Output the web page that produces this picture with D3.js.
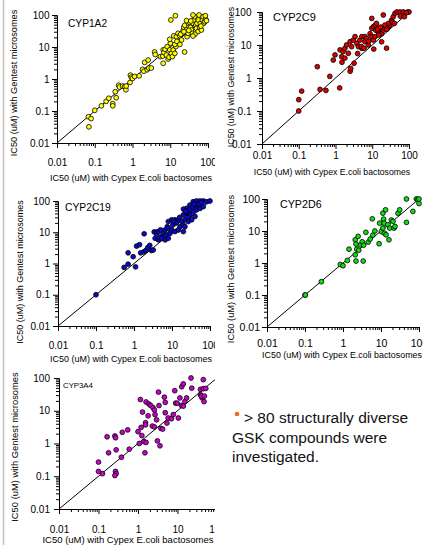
<!DOCTYPE html>
<html>
<head>
<meta charset="utf-8">
<script src="https://cdn.jsdelivr.net/npm/d3@7"></script>
<style>
  body { margin: 0; background: #fff; }
  svg { display: block; font-family: Arial, "Liberation Sans", sans-serif; }
</style>
</head>
<body>
<svg width="423" height="545"></svg>
<script>
const majorTicks = [0.01, 0.1, 1, 10, 100];
const enzymes = ["CYP1A2", "CYP2C9", "CYP2C19", "CYP2D6", "CYP3A4"];
const xTitle = "IC50 (uM) with Cypex E.coli bactosomes";
const yTitle = "IC50 (uM) with Gentest microsomes";
const note = ["> 80 structurally diverse", "GSK compounds were", "investigated."];

// [bactosomes IC50, microsomes IC50] in uM
const cyp1a2 = [
    [0.07, 0.032], [0.068, 0.066], [0.08, 0.058], [0.1, 0.105], [0.15, 0.145],
    [0.2, 0.2], [0.235, 0.25], [0.3, 0.17], [0.3, 0.145], [0.35, 0.4],
    [0.37, 0.26], [0.43, 0.64], [0.45, 0.56], [0.55, 0.6], [0.62, 0.58],
    [0.67, 0.46], [0.68, 0.6], [0.86, 0.78], [0.88, 1.32], [0.93, 1.14],
    [1.0, 1.04], [1.14, 1.2], [1.5, 1.25], [1.85, 2.0], [2.0, 1.75],
    [2.45, 1.95], [2.7, 2.2], [3.15, 2.2], [2.1, 3.3], [2.6, 3.9],
    [3.85, 7.0], [4.0, 5.8], [5.5, 5.0], [6.3, 5.2], [6.5, 3.1],
    [6.5, 8.1], [6.8, 6.7], [7.3, 8.5], [8.3, 10.3], [7.9, 5.6],
    [8.8, 4.2], [9.3, 4.8], [9.7, 8.1], [10.1, 13.1], [9.7, 17.4],
    [10.7, 6.3], [11.4, 5.0], [12, 8.1], [13.2, 6.3], [14.1, 10.3],
    [12.4, 22.3], [10.4, 70], [13.7, 95], [13.2, 12], [14.6, 21],
    [16.1, 26.8], [17.9, 22.3], [19.9, 16.6], [21, 26.8], [21.9, 32.5],
    [22.8, 41.3], [24.2, 47.6], [26.8, 34], [28, 21], [29.7, 26.8],
    [30.3, 55], [33, 57.6], [34.3, 41.3], [36.5, 34], [38.7, 26.8],
    [40.2, 55], [41.9, 69.8], [44.5, 88.7], [47.4, 48.8], [49.3, 38.4],
    [51.3, 55], [54.5, 30.3], [55.6, 69.8], [57.9, 100], [60.3, 41.3],
    [62.8, 55], [66.8, 34], [71, 69.8], [74, 88.7], [77, 55],
    [81.5, 62], [87, 73.3], [91, 66.6], [40, 100], [27, 66.6],
    [24, 7.0], [19, 25], [23, 30], [35, 65], [45, 25],
    [65, 45], [85, 95], [15, 15], [18, 12], [31, 33], [40, 22]
];

const cyp2c9 = [
    [0.1, 0.1], [0.1, 0.22], [0.12, 0.4], [0.32, 2.2], [0.38, 0.45],
    [0.55, 0.42], [0.7, 1.12], [0.87, 3.5], [0.97, 5.0], [1.3, 0.5],
    [1.33, 7.1], [1.47, 4.4], [1.5, 3.0], [1.6, 6.3], [1.8, 7.9],
    [1.8, 4.0], [2.0, 10], [2.24, 5.6], [2.5, 12.6], [2.5, 1.6],
    [2.6, 1.95], [2.75, 8.9], [3.05, 14], [3.2, 2.8], [3.4, 18],
    [3.8, 11.2], [4.0, 5.5], [4.2, 8.9], [4.6, 14], [5.2, 18],
    [5.2, 7.9], [6.3, 18], [6.3, 12.6], [7.0, 16], [7.8, 10],
    [8.7, 22], [9.7, 18], [9.7, 32], [9.7, 64], [10.7, 14],
    [10.8, 36], [12, 40], [12, 18], [13, 45], [14.6, 25],
    [16, 32], [18, 22], [18, 12.5], [20, 28], [20, 81],
    [22, 32], [24.5, 8], [27.5, 36], [30, 40], [27.5, 45],
    [33.6, 57], [37.4, 72], [41.6, 91], [47, 100], [57, 100],
    [70, 100], [93, 100], [58, 75], [75, 72], [100, 100],
    [85, 95], [11, 7.5], [5, 9], [15, 20], [12.5, 28],
    [14, 30], [25, 30], [22, 40], [35, 50], [40, 45],
    [17, 35], [8, 13], [6, 8]
];

const cyp2c19 = [
    [0.1, 0.1], [0.55, 0.75], [0.7, 2.2], [0.7, 0.95], [0.95, 1.65],
    [1.1, 0.78], [1.17, 3.6], [1.4, 4.0], [1.5, 2.2], [1.8, 2.35],
    [1.85, 8.9], [2.05, 2.6], [2.3, 3.2], [2.6, 3.8], [2.9, 2.6],
    [3.2, 2.7], [3.4, 10.2], [3.6, 6.4], [3.9, 10], [4.0, 8.2],
    [4.4, 5.7], [4.4, 10.5], [5.35, 7.2], [5.35, 6.4], [5.9, 9.3],
    [6.6, 11.8], [6.6, 5.7], [7.2, 8.2], [7.5, 15], [8, 13.4],
    [8, 6.4], [8, 22], [8.9, 9.3], [9.8, 11.8], [9.8, 25],
    [10.5, 17], [12, 10.5], [12, 25], [12.5, 20], [14.7, 11.8],
    [14.7, 25], [16.2, 15], [17.9, 22], [19.9, 17], [19.9, 36],
    [19.9, 10.5], [21.9, 25], [21.9, 15], [24.4, 41], [24.4, 58],
    [26.8, 22], [29.6, 52], [29.6, 74], [29.6, 36], [33, 25],
    [36.2, 46], [36.2, 66], [36.2, 95], [40.3, 32], [44.4, 52],
    [44.4, 74], [44.4, 100], [54.7, 58], [54.7, 100], [66.6, 66],
    [66.6, 100], [81.8, 95], [100, 100], [20, 55], [26, 30],
    [50, 80], [60, 90], [23, 47], [38, 80], [13, 20],
    [11, 23], [5, 12], [16, 30]
];

const cyp2d6 = [
    [0.1, 0.1], [0.102, 0.1], [0.27, 0.26], [0.85, 0.9], [1.0, 0.82],
    [1.3, 1.2], [1.44, 2.7], [2.1, 5.3], [2.2, 3.9], [2.1, 1.8],
    [2.2, 1.15], [2.3, 2.7], [2.5, 6.8], [2.6, 2.5], [2.9, 3.7],
    [3.2, 4.6], [3.4, 1.15], [3.5, 3.6], [4.0, 9.1], [4.6, 4.5],
    [5.2, 5.6], [5.9, 24], [6.1, 7.4], [6.9, 10], [8.9, 4.0],
    [9.2, 17.6], [10.2, 9.6], [11.2, 36], [11.2, 12.3], [11.7, 23.5],
    [12.1, 17.6], [12.4, 8.5], [13.2, 46], [13.6, 7.6], [15.2, 15.7],
    [16.2, 5.3], [17, 12.3], [18.7, 22], [20.8, 20], [22, 12.3],
    [23.4, 13.8], [28, 36], [31, 46], [46.8, 18.6], [46.8, 100],
    [69, 41], [85, 100], [93, 95], [100, 72], [100, 100]
];

const cyp3a4 = [
    [0.1, 0.27], [0.1, 0.14], [0.126, 0.12], [0.165, 1.6], [0.18, 0.52],
    [0.26, 1.7], [0.27, 1.5], [0.27, 0.14], [0.28, 0.12], [0.26, 0.105],
    [0.28, 0.64], [0.38, 0.38], [0.4, 2.2], [0.55, 2.6], [0.6, 0.67],
    [1.0, 2.3], [1.08, 1.0], [1.15, 22], [1.2, 3.1], [1.25, 1.75],
    [1.3, 9.1], [1.4, 1.15], [1.55, 4.3], [1.55, 3.7], [1.5, 0.52],
    [1.6, 1.08], [1.6, 18.5], [1.8, 7], [1.9, 16], [2.1, 14.4],
    [2.3, 3.4], [2.4, 12.4], [2.6, 10.5], [2.6, 3.2], [2.7, 7.6],
    [2.95, 5.3], [3.1, 1.2], [3.3, 37], [3.4, 14.4], [3.6, 0.85],
    [3.8, 2.9], [4.2, 2.75], [4.65, 26], [4.9, 18], [4.9, 8.7],
    [5.4, 4.2], [5.8, 6.0], [7.0, 5.7], [7.8, 7.6], [8.5, 41],
    [9.0, 17], [9.8, 17], [10.5, 6.0], [11.5, 24.6], [12.8, 54],
    [12.6, 14.5], [14, 66], [14, 13.8], [15.4, 19], [17, 24.6],
    [22, 100], [23, 49], [38, 31], [42, 24.6], [47, 19],
    [45, 89], [38, 45], [45, 47], [52, 48], [40, 28], [48, 28]
];

const series = [cyp1a2, cyp2c9, cyp2c19, cyp2d6, cyp3a4];
const colours = ["#ffff00", "#dd0000", "#0a0acc", "#11dd11", "#cc00cc"];

// placement of each panel on the page (left, right, top, bottom of the plot area)
const layout = [
    { l: 57, r: 208, t: 15, b: 143, nameX: 68, nameY: 27, nameSize: 10.2,
      xPad: 10.9, yPad: 2.5, tick: 10, xtX: 131, xtY: 181, xtSize: 9,
      ytX: 14, ytY: 83, ytSize: 9.2, clip: true },
    { l: 262, r: 409, t: 12, b: 144, nameX: 273, nameY: 21, nameSize: 11,
      xPad: 2.4, yPad: 5.5, tick: 10, xtX: 332, xtY: 175, xtSize: 8.7,
      ytX: 231, ytY: 77, ytSize: 8.8, clip: false },
    { l: 58, r: 210, t: 201, b: 326, nameX: 65, nameY: 211, nameSize: 10.3,
      xPad: 10.4, yPad: 3, tick: 10, xtX: 131, xtY: 362, xtSize: 9,
      ytX: 20, ytY: 272, ytSize: 9, clip: true },
    { l: 267, r: 419, t: 199, b: 327, nameX: 280, nameY: 208, nameSize: 10.7,
      xPad: 7.4, yPad: 2, tick: 10.5, xtX: 342, xtY: 358, xtSize: 8.9,
      ytX: 231, ytY: 269, ytSize: 9.3, clip: false },
    { l: 59, r: 217, t: 378, b: 509, nameX: 63, nameY: 388, nameSize: 7.8,
      xPad: 11.4, yPad: 4, tick: 10, xtX: 128, xtY: 543, xtSize: 9.5,
      ytX: 15, ytY: 447, ytSize: 9.4, clip: true }
];

const svg = d3.select("svg");

// minor ticks 2..9 inside every decade
const minorTicks = [];
majorTicks.slice(0, -1).forEach(function (d) {
    for (let k = 2; k <= 9; k++) minorTicks.push(d * k);
});

// thin grey rule down the left edge of the slide
svg.append("line")
    .attr("x1", 3.5).attr("x2", 3.5)
    .attr("y1", 0).attr("y2", 545)
    .attr("stroke", "#c4c4c4")
    .attr("stroke-width", 1.6);

// the left column images are cropped at x = 215
svg.append("clipPath").attr("id", "leftCol")
    .append("rect").attr("x", 0).attr("y", 0).attr("width", 215).attr("height", 545);

function drawPanel(data, i) {
    const p = layout[i];
    const x = d3.scaleLog().domain([0.01, 100]).range([p.l, p.r]);
    const y = d3.scaleLog().domain([0.01, 100]).range([p.b, p.t]);

    const g = svg.append("g").attr("class", "panel");
    if (p.clip) g.attr("clip-path", "url(#leftCol)");

    // line of identity
    g.append("line")
        .attr("x1", x(0.01)).attr("y1", y(0.01))
        .attr("x2", x(100)).attr("y2", y(100))
        .attr("stroke", "#000")
        .attr("stroke-width", 1);

    // x axis: major + minor ticks
    g.append("g").attr("transform", "translate(0," + p.b + ")")
        .call(d3.axisBottom(x).tickValues(minorTicks).tickSize(3)
            .tickSizeOuter(0).tickFormat(""));
    g.append("g").attr("transform", "translate(0," + p.b + ")")
        .call(d3.axisBottom(x).tickValues(majorTicks).tickSize(5)
            .tickSizeOuter(0).tickPadding(p.xPad).tickFormat((d) => d));

    // y axis
    g.append("g").attr("transform", "translate(" + p.l + ",0)")
        .call(d3.axisLeft(y).tickValues(minorTicks).tickSize(3)
            .tickSizeOuter(0).tickFormat(""));
    g.append("g").attr("transform", "translate(" + p.l + ",0)")
        .call(d3.axisLeft(y).tickValues(majorTicks).tickSize(5)
            .tickSizeOuter(0).tickPadding(p.yPad).tickFormat((d) => d));

    g.selectAll(".domain, .tick line").attr("stroke", "#000");
    g.selectAll(".tick text")
        .attr("fill", "#000")
        .style("font-family", "Arial, 'Liberation Sans', sans-serif")
        .style("font-size", p.tick + "px");

    // points
    g.append("g")
        .selectAll("circle")
        .data(data)
        .enter()
        .append("circle")
        .attr("cx", (d) => x(d[0]))
        .attr("cy", (d) => y(d[1]))
        .attr("r", 2.4)
        .attr("fill", colours[i])
        .attr("stroke", "#000")
        .attr("stroke-width", 0.8);

    // enzyme name
    g.append("text")
        .attr("x", p.nameX)
        .attr("y", p.nameY)
        .style("font-size", p.nameSize + "px")
        .text(enzymes[i]);

    // axis titles
    g.append("text")
        .attr("x", p.xtX)
        .attr("y", p.xtY)
        .attr("text-anchor", "middle")
        .style("font-size", p.xtSize + "px")
        .text(xTitle);

    g.append("text")
        .attr("transform", "translate(" + p.ytX + "," + p.ytY + ") rotate(-90)")
        .attr("text-anchor", "middle")
        .attr("dy", "0.35em")
        .style("font-size", p.ytSize + "px")
        .text(yTitle);
}

series.forEach(drawPanel);

// side note
svg.append("circle")
    .attr("cx", 237).attr("cy", 414).attr("r", 2.3)
    .attr("fill", "#f26a1b");

const noteText = svg.append("text").style("font-size", "15.5px").attr("fill", "#111");
note.forEach(function (line, i) {
    noteText.append("tspan")
        .attr("x", i === 0 ? 244 : 232)
        .attr("y", 423 + i * 19.5)
        .text(line);
});
</script>
</body>
</html>
